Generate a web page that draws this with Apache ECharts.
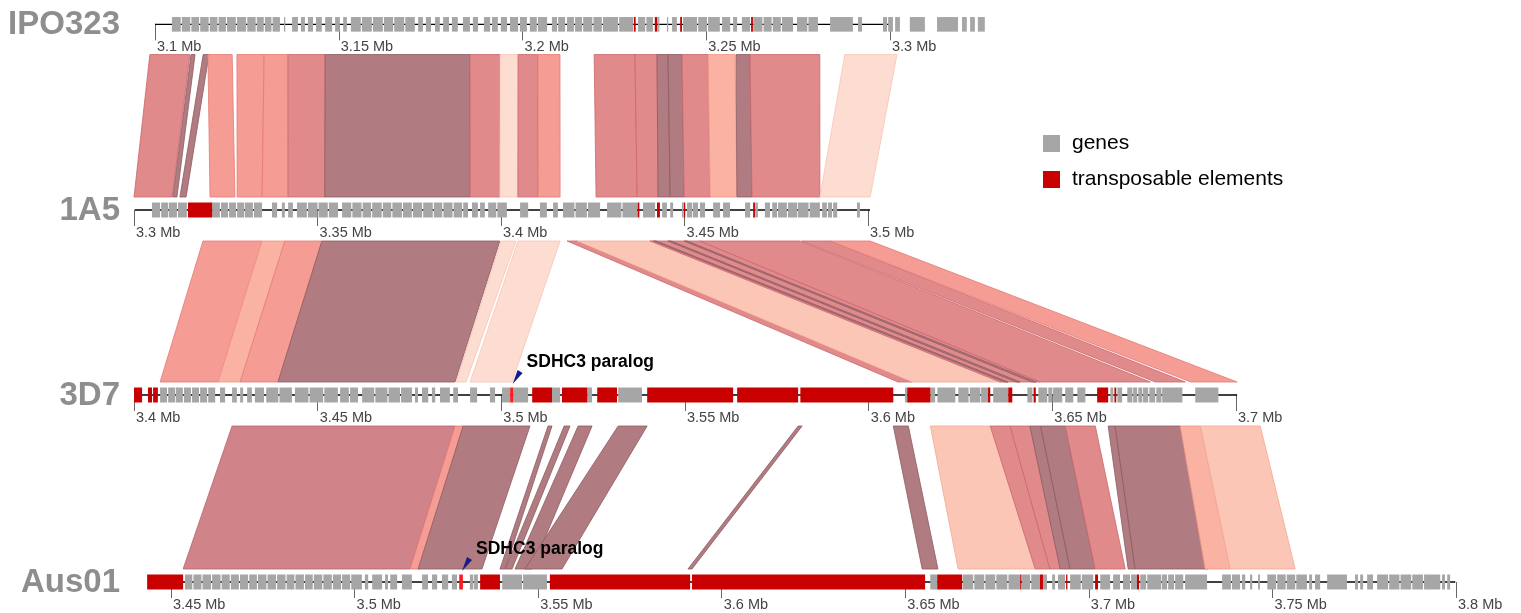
<!DOCTYPE html>
<html><head><meta charset="utf-8">
<script src="https://cdn.jsdelivr.net/npm/echarts@6/dist/echarts.min.js"></script>
<style>html,body{margin:0;padding:0;background:#fff}#c{width:1521px;height:613px}</style>
</head><body><div id="c"></div>
<script>
// ---------------- DATA (positions in kb) ----------------
const tracks = ['IPO323', '1A5', '3D7', 'Aus01'];
const axisMin = [3100, 3300, 3400, 3450];
const axisMax = [3300, 3500, 3700, 3800];
const tickStep = 50;
const trackSpan = [[3100, 3330], [3300.2, 3500.6], [3400, 3700.3], [3440.2, 3799.8]];

const genesIPO323 = [[3104.6,3107.0],[3107.3,3109.6],[3109.9,3112.0],[3112.3,3114.6],[3114.9,3117.0],[3117.3,3119.3],[3119.6,3122.0],[3122.3,3124.8],[3125.1,3127.4],[3127.7,3129.6],[3129.9,3131.7],[3132.0,3134.0],
[3135.1,3135.4],[3137.3,3138.9],[3139.7,3140.8],[3141.6,3143.0],[3143.8,3145.4],[3146.3,3148.2],[3149.0,3150.3],[3151.2,3152.2],
[3153.3,3156.0],[3156.3,3159.0],[3159.3,3162.0],[3162.3,3164.8],[3165.1,3167.8],[3168.1,3170.7],
[3171.6,3172.9],[3173.7,3175.1],[3176.2,3177.5],[3178.4,3180.0],[3180.8,3182.4],[3183.8,3185.7],[3186.5,3187.9],[3189.5,3191.2],[3191.7,3193.3],[3194.1,3195.8],[3196.6,3198.8],[3199.3,3201.2],[3202.0,3203.9],[3204.2,3206.7],[3208.0,3209.4],[3209.7,3211.6],[3212.1,3214.0],[3214.3,3216.2],[3216.5,3219.0],[3219.3,3221.6],[3221.9,3226.0],[3226.3,3230.1],
[3231.4,3233.4],[3233.7,3235.5],[3236.9,3237.2],[3239.3,3239.6],[3240.7,3242.0],[3243.7,3247.5],[3247.8,3250.2],[3250.5,3253.7],[3254.3,3256.5],[3257.3,3258.4],[3259.7,3261.9],
[3262.8,3265.3],[3265.6,3267.8],[3268.1,3270.3],[3270.6,3273.6],[3274.7,3277.5],[3277.8,3280.4],[3283.7,3289.9],[3291.3,3292.4],[3298.1,3299.2],[3299.5,3300.8],[3301.4,3302.7],[3305.4,3309.5],[3312.8,3318.5],[3319.6,3320.9],[3321.8,3323.1],[3323.9,3325.8]];
const tesIPO323 = [[3230.3,3230.8],[3236.0,3236.7],[3242.9,3243.4],[3262.2,3262.7]];

const genes1A5 = [[3304.9,3307.1],[3307.4,3309.3],[3309.5,3311.7],[3312.0,3314.4],
[3321.3,3323.4],[3323.7,3325.6],[3325.9,3327.8],[3328.1,3330.0],[3330.2,3332.4],[3332.7,3334.9],
[3337.6,3339.0],[3340.3,3341.1],[3342.0,3343.3],[3344.4,3347.1],[3347.4,3350.0],[3350.3,3352.8],[3353.1,3355.6],
[3356.7,3359.2],[3359.5,3362.0],[3362.3,3364.6],[3364.9,3367.5],[3367.8,3370.1],[3370.4,3373.0],[3373.3,3375.7],[3376.0,3378.5],[3378.8,3381.4],[3381.7,3384.0],[3384.3,3386.8],[3387.1,3389.4],
[3389.7,3391.0],[3392.1,3393.7],[3394.3,3395.6],[3396.5,3398.7],[3399.0,3401.6],
[3405.2,3407.4],[3410.6,3412.5],[3414.2,3415.5],[3416.9,3420.0],[3420.3,3423.4],[3423.7,3427.0],[3428.9,3432.8],[3433.1,3437.1],
[3438.7,3442.0],[3443.9,3445.2],[3446.1,3446.9],[3449.3,3449.7],[3450.7,3452.1],[3452.3,3453.7],[3454.2,3455.6],[3457.8,3459.7],[3460.5,3462.4],[3466.5,3467.9],[3469.3,3470.0],[3471.9,3473.3],[3473.9,3475.2],[3475.5,3477.9],[3478.2,3480.7],[3480.9,3483.8],[3484.1,3486.9],[3487.5,3488.8],[3489.1,3490.2],[3490.5,3491.6],[3497.0,3497.8]];
const tes1A5 = [[3314.7,3321.3],[3437.2,3437.7],[3442.5,3443.3],[3449.8,3450.2],[3468.7,3469.2]];

const genes3D7 = [[3407.1,3409.0],[3409.3,3411.2],[3411.4,3413.3],[3413.6,3415.5],[3415.8,3417.7],[3418.0,3419.9],[3420.2,3422.1],
[3423.4,3424.8],[3426.7,3428.0],[3428.9,3429.7],[3430.8,3432.1],[3432.9,3435.4],[3436.0,3439.3],[3439.6,3443.0],[3443.8,3447.5],[3447.8,3451.5],[3451.8,3455.5],[3456.1,3458.5],[3458.8,3461.0],[3462.1,3465.4],[3465.7,3469.0],[3469.3,3472.4],[3472.7,3475.7],[3476.5,3477.3],[3478.4,3480.1],[3481.1,3482.0],[3483.3,3486.0],[3486.9,3488.2],[3491.5,3493.4],[3496.9,3498.3],
[3500.2,3502.4],[3503.2,3507.3],[3513.8,3516.0],[3523.4,3524.7],[3531.8,3538.3],
[3609.9,3610.5],[3616.8,3618.1],[3618.7,3623.6],[3624.4,3627.2],[3627.5,3630.4],[3630.6,3632.5],[3633.9,3638.0],[3643.2,3644.6],[3646.2,3648.6],[3648.9,3650.0],[3650.2,3652.7],[3653.5,3655.7],[3656.8,3659.0],
[3665.8,3666.6],[3667.7,3669.0],[3670.4,3671.8],[3672.0,3673.1],[3673.4,3674.5],[3674.7,3676.1],[3676.4,3678.0],[3678.3,3679.7],[3679.9,3685.4],[3688.9,3695.2]];
const tes3D7 = [[3400.0,3402.2],[3403.8,3404.9],[3405.2,3406.5],[3508.4,3513.8],[3516.5,3523.4],[3526.1,3531.5],[3539.7,3563.1],[3564.2,3580.8],[3581.4,3606.7],[3610.5,3616.8],[3632.5,3633.1],[3638.0,3639.1],[3644.9,3645.5],[3662.2,3665.2],[3666.9,3667.4]];
const paralog3D7 = [[3502.4,3503.2]];

const genesAus01 = [[3453.8,3455.8],[3456.1,3458.3],[3458.6,3460.9],[3461.2,3463.5],[3463.8,3466.0],[3466.3,3468.5],[3468.8,3471.0],[3471.3,3473.4],[3473.7,3476.0],[3476.3,3478.6],[3478.9,3481.2],[3481.5,3483.6],[3483.9,3486.2],[3486.5,3488.6],[3488.9,3491.2],[3491.5,3493.8],[3494.1,3496.3],[3496.6,3498.8],[3499.1,3502.0],
[3502.8,3503.7],[3504.8,3507.5],[3508.3,3509.1],[3509.7,3511.6],[3512.9,3515.6],[3518.4,3520.0],[3521.1,3522.5],[3523.8,3525.5],[3526.5,3527.9],
[3531.4,3532.3],[3532.5,3533.6],[3540.2,3545.6],[3545.9,3552.4],
[3656.8,3658.7],[3665.7,3668.5],[3668.8,3671.5],[3671.8,3674.5],[3674.8,3677.8],[3678.1,3681.3],[3681.8,3684.0],[3684.3,3686.7],[3687.5,3688.6],[3690.0,3690.8],[3691.6,3693.5],[3694.9,3697.8],[3698.1,3701.2],[3703.1,3705.8],[3706.6,3708.5],[3709.3,3711.2],[3711.5,3713.1],
[3714.0,3715.6],[3715.9,3719.7],[3719.9,3721.3],[3721.6,3723.2],[3723.5,3725.7],[3726.2,3732.2],
[3736.3,3738.7],[3739.0,3741.2],[3741.7,3742.6],[3743.9,3744.5],[3746.1,3746.6],[3748.6,3751.0],[3751.3,3753.6],[3753.9,3756.2],[3756.5,3759.4],[3760.0,3760.8],[3761.6,3763.0],[3764.9,3770.3],[3772.5,3773.3],[3773.9,3774.7],[3775.8,3777.4],[3778.5,3781.5],[3781.8,3784.6],[3784.9,3787.8],[3788.1,3791.0],[3791.3,3795.7],[3796.2,3797.0],[3797.6,3798.4]];
const tesAus01 = [[3443.5,3453.3],[3534.2,3539.6],[3553.2,3591.4],[3591.9,3655.4],[3658.7,3665.5],[3681.3,3681.6],[3686.7,3687.5],[3693.8,3694.1],[3701.7,3702.5],[3713.1,3713.7]];
const paralogAus01 = [[3528.5,3529.5]];

// links: [startTop, endTop, startBottom, endBottom, identityClass]
const linksIPO323_1A5 = [
[3098.6,3109.5,3300.0,3310.4,2],[3109.8,3110.9,3310.6,3311.7,0],[3113.1,3114.7,3312.5,3314.2,0],
[3114.4,3121.0,3320.7,3327.5,3],[3122.3,3129.7,3328.1,3334.9,3],[3129.7,3136.2,3334.9,3342.0,3],
[3136.2,3146.3,3342.0,3352.0,2],[3146.3,3185.7,3352.0,3391.6,0],[3185.7,3193.9,3391.6,3399.7,2],
[3193.9,3198.8,3399.7,3404.6,6],[3198.8,3204.2,3404.6,3410.1,2],[3204.2,3210.2,3410.1,3416.1,3],
[3219.5,3230.6,3425.9,3437.1,2],[3230.6,3236.6,3437.1,3442.8,2],[3236.6,3239.6,3442.8,3446.1,0],
[3239.6,3243.4,3446.1,3449.9,0],[3243.4,3250.5,3449.9,3457.0,2],[3250.5,3257.8,3457.0,3464.3,4],
[3258.1,3261.9,3464.3,3468.4,0],[3261.9,3280.9,3468.4,3486.9,2],[3287.7,3301.9,3486.9,3500.6,6]];
const links1A5_3D7 = [
[3318.8,3334.9,3407.1,3422.9,3],[3334.9,3341.1,3422.9,3428.9,4],[3341.1,3351.2,3428.9,3439.2,3],
[3351.2,3399.7,3439.2,3487.4,0],[3400.0,3404.1,3487.7,3490.4,6],[3404.6,3416.1,3491.5,3502.9,6],
[3418.0,3420.7,3608.0,3611.8,2],[3420.7,3442.0,3611.8,3636.0,5],[3440.6,3454.2,3635.8,3646.7,2],
[3441.6,3442.3,3637.0,3637.9,0],[3445.5,3446.3,3640.2,3641.2,0],[3449.9,3450.7,3644.5,3645.6,0],
[3454.2,3481.5,3646.7,3676.7,2],[3482.0,3489.7,3678.0,3686.2,2],[3489.7,3500.6,3687.7,3700.3,3]];
const links3D7_Aus01 = [
[3426.7,3487.4,3453.3,3515.1,1],[3487.4,3489.6,3515.1,3517.8,3],[3489.6,3507.8,3517.3,3534.7,0],
[3512.7,3513.8,3539.6,3541.0,0],[3517.1,3518.7,3541.0,3542.9,0],[3520.9,3524.7,3543.7,3548.3,0],
[3531.8,3539.7,3546.4,3556.5,0],[3580.8,3581.9,3590.8,3591.9,0],[3606.7,3610.8,3654.6,3658.9,0],
[3616.8,3633.1,3664.4,3685.4,5],[3633.1,3638.5,3685.4,3689.4,2],[3638.5,3643.9,3689.4,3692.2,2],
[3643.9,3646.8,3692.2,3694.9,0],[3646.8,3653.5,3694.9,3701.7,0],[3653.5,3661.7,3701.7,3709.9,2],
[3665.2,3667.1,3710.7,3712.6,0],[3667.1,3684.8,3712.6,3732.5,0],[3684.8,3690.3,3731.7,3738.5,4],
[3690.3,3706.6,3738.5,3756.2,5]];

const paralogLabel = 'SDHC3 paralog';
const legendNames = ['genes', 'transposable elements'];

// ---------------- STYLE / LAYOUT ----------------
const TRACK_Y = [24, 210, 395, 582];
const GRID_LEFT = [155, 134, 134, 171];
const GRID_W = [735, 734, 1102, 1285];
const PALETTE = [
  {fill:'#b07c81', stroke:'#8e5b61'},
  {fill:'#d08388', stroke:'#b5666c'},
  {fill:'#e08a8c', stroke:'#cb676b'},
  {fill:'#f59c95', stroke:'#e67a73'},
  {fill:'#fab2a3', stroke:'#f09483'},
  {fill:'#fcc6b6', stroke:'#f3a892'},
  {fill:'#fddcd1', stroke:'#f8c5b4'}
];
const GENE_COLOR = '#a6a6a6', TE_COLOR = '#c80000', PARALOG_COLOR = '#ff1c1c';

const chart = echarts.init(document.getElementById('c'));

function blockRender(params, api) {
  const a = api.coord([api.value(0), -7.5]);
  const b = api.coord([api.value(1), 7.5]);
  return {type:'rect', shape:{x:a[0], y:a[1], width:Math.max(b[0]-a[0], 1.3), height:b[1]-a[1]},
          style:{fill: api.visual('color')}};
}
function linkRender(bottomGrid) {
  return function (params, api) {
    const p1 = api.coord([api.value(0), 31]);
    const p2 = api.coord([api.value(1), 31]);
    const q1 = chart.convertToPixel({gridIndex: bottomGrid}, [api.value(2), -13]);
    const q2 = chart.convertToPixel({gridIndex: bottomGrid}, [api.value(3), -13]);
    const c = PALETTE[api.value(4)];
    return {type:'polygon', shape:{points:[p1, p2, q2, q1]},
            style:{fill:c.fill, stroke:c.stroke, lineWidth:0.8}};
  };
}
function labelRender(params, api) {
  const p = api.coord([api.value(0), 0]);
  return {type:'group', children:[
    {type:'polygon', shape:{points:[[p[0]+1, p[1]-11],[p[0]+6, p[1]-25],[p[0]+11, p[1]-22]]}, style:{fill:'#1a1a8c'}},
    {type:'text', x:p[0]+15, y:p[1]-33, style:{text:paralogLabel, font:'bold 17.5px "Liberation Sans"', fill:'#000', verticalAlign:'middle', align:'left'}}
  ]};
}

const grids = tracks.map((t, i) => ({left:GRID_LEFT[i], width:GRID_W[i], top:TRACK_Y[i]-25, height:38}));
const xAxes = tracks.map((t, i) => ({
  gridIndex:i, type:'value', min:axisMin[i], max:axisMax[i], interval:tickStep,
  axisLine:{show:false}, splitLine:{show:false},
  axisTick:{show:true, length:16, lineStyle:{color:'#666', width:1}},
  axisLabel:{formatter:v => (v/1000) + ' Mb', align:'left', verticalAlign:'middle', margin:10,
             padding:[0,0,0,2], color:'#444', fontSize:14.5, fontFamily:'Liberation Sans'}
}));
const yAxes = tracks.map((t, i) => ({gridIndex:i, type:'value', min:-25, max:13, inverse:true, show:false}));

const geneSets = [genesIPO323, genes1A5, genes3D7, genesAus01];
const teSets = [tesIPO323, tes1A5, tes3D7, tesAus01];
const series = [];
const linkSets = [linksIPO323_1A5, links1A5_3D7, links3D7_Aus01];
linkSets.forEach((d, i) => series.push({
  type:'custom', name:'links'+i, xAxisIndex:i, yAxisIndex:i, renderItem:linkRender(i+1),
  data:d, silent:true, z:1
}));
tracks.forEach((t, i) => {
  series.push({type:'line', name:'track'+i, xAxisIndex:i, yAxisIndex:i, data:[[trackSpan[i][0],0],[trackSpan[i][1],0]],
    symbol:'none', lineStyle:{color:'#000', width:1.3}, silent:true, z:2});
  series.push({type:'custom', name:'genes', xAxisIndex:i, yAxisIndex:i, renderItem:blockRender,
    itemStyle:{color:GENE_COLOR}, data:geneSets[i], silent:true, z:3});
  series.push({type:'custom', name:'transposable elements', xAxisIndex:i, yAxisIndex:i, renderItem:blockRender,
    itemStyle:{color:TE_COLOR}, data:teSets[i], silent:true, z:4});
});
[[2, paralog3D7], [3, paralogAus01]].forEach(([g, d]) => {
  series.push({type:'custom', name:'paralog'+g, xAxisIndex:g, yAxisIndex:g, renderItem:blockRender,
    itemStyle:{color:PARALOG_COLOR}, data:d, silent:true, z:5});
  series.push({type:'custom', name:'paralogLabel'+g, xAxisIndex:g, yAxisIndex:g, renderItem:labelRender,
    data:[[(d[0][0]+d[0][1])/2]], silent:true, z:6});
});

const graphic = tracks.map((t, i) => ({
  type:'text', x:120, y:TRACK_Y[i]+1,
  style:{text:t, font:'bold 33px "Liberation Sans"', fill:'#8e8e8e', align:'right', verticalAlign:'middle'}
}));

chart.setOption({
  animation:false,
  backgroundColor:'#fff',
  grid:grids, xAxis:xAxes, yAxis:yAxes,
  legend:{data:legendNames, orient:'vertical', left:1043, top:133, itemWidth:17, itemHeight:17, itemGap:15,
          icon:'rect', selectedMode:false, padding:0,
          textStyle:{fontSize:21, color:'#000', fontFamily:'Liberation Sans', padding:[0,0,0,7]}},
  graphic:graphic,
  series:series
});
</script></body></html>
